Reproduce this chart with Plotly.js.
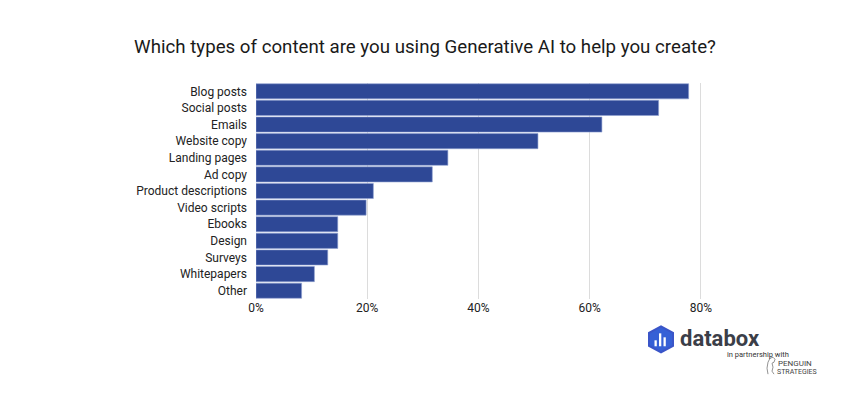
<!DOCTYPE html>
<html>
<head>
<meta charset="utf-8">
<script src="https://cdn.plot.ly/plotly-3.0.1.min.js"></script>
<style>html,body{margin:0;padding:0;background:#fff;}#chart{width:850px;height:400px;}</style>
</head>
<body>
<div id="chart"></div>
<script>
const categories = ["Blog posts","Social posts","Emails","Website copy","Landing pages","Ad copy","Product descriptions","Video scripts","Ebooks","Design","Surveys","Whitepapers","Other"];
const shares = [77.8, 72.4, 62.2, 50.7, 34.5, 31.7, 21.1, 19.8, 14.7, 14.7, 12.9, 10.5, 8.2];
const tickValues = [0, 20, 40, 60, 80];
const tickLabels = ["0%", "20%", "40%", "60%", "80%"];

// plot area in pixels (for placing the logo decoration)
const L = 256, R = 702, T = 82.5, B = 299.5;
const px = x => (x - L) / (R - L);
const py = y => (B - y) / (B - T);
const toPath = (pts, close) => 'M' + pts.map(p => px(p[0]) + ',' + py(p[1])).join(' L') + (close ? ' Z' : '');

const hex = [[661,327],[673,333.5],[673,346.5],[661,353],[649,346.5],[649,333.5]];
const penguin = [[768,375],[767,369],[768,363],[770,359],[773,358],[775,360],[774,363],[772,364],[773,368],[772,372],[774,375]];
function rectShape(x0, y0, x1, y1, color) {
  return {type:'rect', xref:'paper', yref:'paper', x0:px(x0), x1:px(x1), y0:py(y1), y1:py(y0),
          fillcolor:color, line:{width:0}, layer:'above'};
}

const data = [{
  type: 'bar',
  orientation: 'h',
  y: categories,
  x: shares,
  marker: {color: '#2e4896', line: {color: '#8f9fd0', width: 0.6}},
  hoverinfo: 'x+y'
}];

const layout = {
  width: 850, height: 400,
  paper_bgcolor: '#fff', plot_bgcolor: '#fff',
  margin: {l: L, r: 850 - R, t: T, b: 400 - B, pad: 0},
  font: {family: 'Roboto, sans-serif', color: '#222', size: 12},
  title: {text: 'Which types of content are you using Generative AI to help you create?',
          font: {size: 18.7, color: '#1a1a1a', family: 'Roboto, sans-serif'},
          x: 0.5, xref: 'container', xanchor: 'center', y: 0.885, yref: 'container', yanchor: 'middle'},
  bargap: 0.09,
  showlegend: false,
  xaxis: {range: [0, 80.2], tickvals: tickValues, ticktext: tickLabels, showgrid: true,
          gridcolor: '#dcdcdc', gridwidth: 1, zeroline: false, showline: false, ticks: '',
          tickfont: {size: 12, color: '#222'}, fixedrange: true},
  yaxis: {autorange: 'reversed', type: 'category', showgrid: false, zeroline: false, showline: false,
          ticks: '', ticklabelstandoff: 8, tickfont: {size: 12, color: '#222'}, fixedrange: true},
  shapes: [
    {type:'path', xref:'paper', yref:'paper', path: toPath(hex, true), fillcolor:'#3560d6', line:{color:'#3a55c8', width:2}, layer:'above'},
    rectShape(654.5, 341, 656.8, 347, '#fff'),
    rectShape(659, 334, 661.3, 347, '#fff'),
    rectShape(663.5, 338, 665.8, 347, '#fff'),
    {type:'path', xref:'paper', yref:'paper', path: toPath(penguin, false), line:{color:'#777', width:0.8}, layer:'above'}
  ],
  annotations: [
    {xref:'paper', yref:'paper', x: px(678), y: py(339.5), xanchor:'left', yanchor:'middle', showarrow:false,
     text:'<b>databox</b>', font:{family:'Roboto, sans-serif', size:22, color:'#3b3e48'}},
    {xref:'paper', yref:'paper', x: px(758), y: py(355), xanchor:'center', yanchor:'middle', showarrow:false,
     text:'in partnership with', font:{family:'Roboto, sans-serif', size:7.5, color:'#333'}},
    {xref:'paper', yref:'paper', x: px(776), y: py(364), xanchor:'left', yanchor:'middle', showarrow:false,
     text:'PENGUIN', font:{family:'Roboto, sans-serif', size:8, color:'#444'}},
    {xref:'paper', yref:'paper', x: px(775), y: py(373), xanchor:'left', yanchor:'middle', showarrow:false,
     text:'STRATEGIES', font:{family:'Roboto, sans-serif', size:7, color:'#444'}}
  ]
};

Plotly.newPlot('chart', data, layout, {displayModeBar: false, staticPlot: true});
</script>
</body>
</html>
